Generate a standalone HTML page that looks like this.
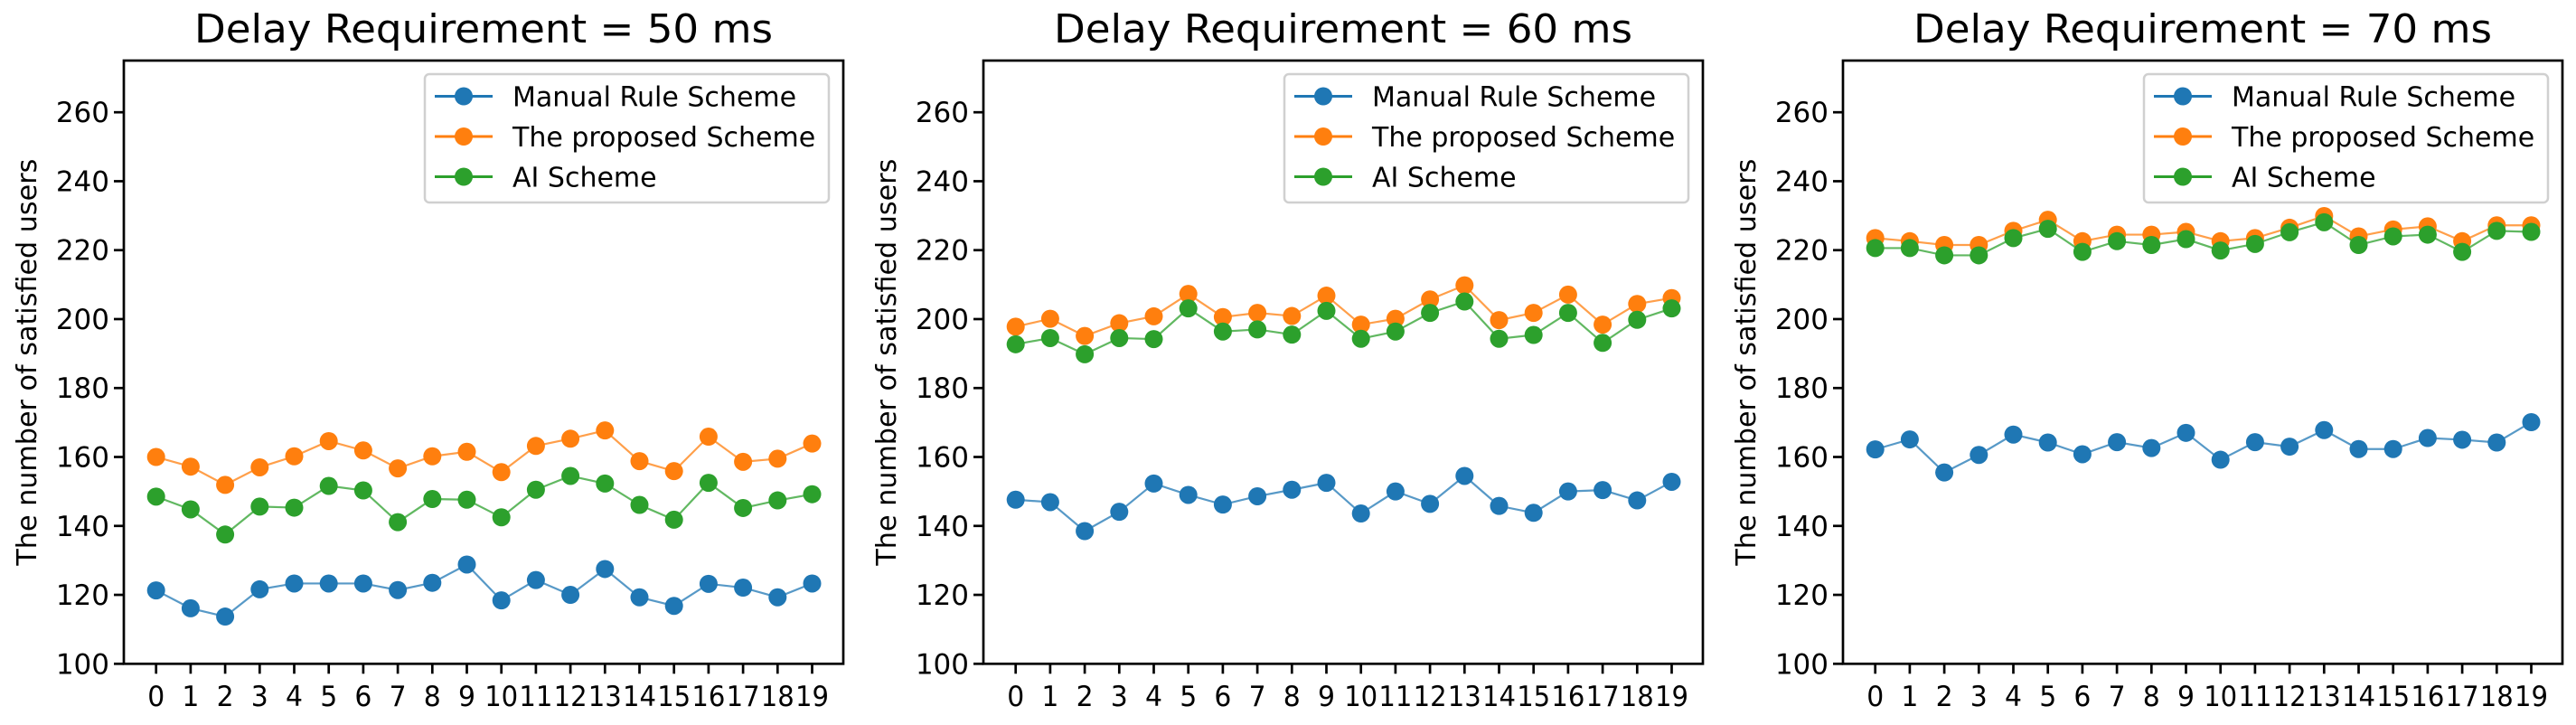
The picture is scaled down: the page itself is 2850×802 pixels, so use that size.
<!DOCTYPE html>
<html><head><meta charset="utf-8"><style>
html,body{margin:0;padding:0;background:#fff;}
svg{display:block;font-family:"DejaVu Sans","Liberation Sans",sans-serif;}
</style></head><body>
<svg id="chart" width="2850" height="802" xmlns="http://www.w3.org/2000/svg"></svg>
<script>
const categories = [0,1,2,3,4,5,6,7,8,9,10,11,12,13,14,15,16,17,18,19];
const yTicks = [100,120,140,160,180,200,220,240,260];
const panelTitles = ["Delay Requirement = 50 ms","Delay Requirement = 60 ms","Delay Requirement = 70 ms"];
const seriesNames = ["Manual Rule Scheme","The proposed Scheme","AI Scheme"];
const manual50 = [121.3,116.1,113.7,121.6,123.3,123.3,123.3,121.4,123.5,128.8,118.4,124.3,120,127.5,119.3,116.8,123.2,122.1,119.3,123.3];
const proposed50 = [160,157.2,151.9,157,160.2,164.6,161.9,156.7,160.2,161.5,155.6,163.2,165.3,167.7,158.8,155.9,165.9,158.6,159.5,163.9];
const ai50 = [148.5,144.8,137.5,145.6,145.3,151.6,150.3,141.1,147.8,147.6,142.5,150.5,154.5,152.3,146.1,141.8,152.5,145.2,147.4,149.2];
const manual60 = [147.6,146.9,138.5,144.1,152.3,149,146.2,148.6,150.5,152.5,143.6,150,146.4,154.5,145.8,143.8,150,150.4,147.4,152.8];
const proposed60 = [197.8,200.1,195.1,198.8,200.8,207.3,200.6,201.8,200.9,206.8,198.4,200.1,205.7,209.8,199.7,201.8,207.1,198.4,204.4,206.1];
const ai60 = [192.7,194.5,189.8,194.5,194.2,203.1,196.4,197,195.5,202.4,194.3,196.4,201.8,205.1,194.3,195.4,201.8,193.1,199.8,203.1];
const manual70 = [162.2,165.1,155.5,160.6,166.5,164.2,160.8,164.3,162.6,167,159.2,164.3,163,167.8,162.3,162.3,165.5,165,164.2,170.1];
const proposed70 = [223.5,222.6,221.5,221.5,225.6,228.8,222.6,224.5,224.5,225.3,222.6,223.5,226.5,229.9,224,226,226.9,222.6,227.2,227.2];
const ai70 = [220.6,220.6,218.5,218.5,223.5,226.2,219.5,222.6,221.5,223.2,219.9,221.8,225.2,228.1,221.5,224,224.5,219.5,225.6,225.3];

const panelData = [[manual50,proposed50,ai50],[manual60,proposed60,ai60],[manual70,proposed70,ai70]];
const colors = ["#1f77b4","#ff7f0e","#2ca02c"];
const NS = "http://www.w3.org/2000/svg";
const svg = document.getElementById("chart");
const lefts = [137,1088,2039];
const W = 796, TOP = 67, BOT = 734.3, YMIN = 100, YMAX = 275;
function mk(tag, attrs, parent){const e=document.createElementNS(NS,tag);for(const k in attrs)e.setAttribute(k,attrs[k]);(parent||svg).appendChild(e);return e;}
function yScale(v){return BOT-(v-YMIN)/(YMAX-YMIN)*(BOT-TOP);}
function xScale(L,i){return L+35.7+i*38.2;}

panelData.forEach((series,p)=>{
  const L = lefts[p];
  const g = mk("g",{});
  
  
  const t = mk("text",{x:L+W/2,y:47,"font-size":44,"text-anchor":"middle",textLength:640,lengthAdjust:"spacingAndGlyphs"},g);
  t.textContent = panelTitles[p];
  
  
  const yl = mk("text",{x:0,y:0,"font-size":30,"text-anchor":"middle",transform:`translate(${L-97},${(TOP+BOT)/2}) rotate(-90)`,textLength:450,lengthAdjust:"spacingAndGlyphs"},g);
  yl.textContent = "The number of satisfied users";
  
  
  yTicks.forEach(v=>{
    const y=yScale(v);
    const tk=mk("line",{x1:L-11,x2:L,y1:y,y2:y,stroke:"#000","stroke-width":2.7},g);
    
    
    const tl=mk("text",{x:L-16,y:y+11,"font-size":31,"text-anchor":"end"},g);
    tl.textContent=v;
    
    
  });
  categories.forEach((c,i)=>{
    const x=xScale(L,i);
    const tk=mk("line",{x1:x,x2:x,y1:BOT,y2:BOT+11,stroke:"#000","stroke-width":2.7},g);
    
    
    const tl=mk("text",{x:x,y:781,"font-size":31,"text-anchor":"middle",textLength:(c>=10?37:19),lengthAdjust:"spacingAndGlyphs"},g);
    tl.textContent=c;
    
    
  });
  series.forEach((vals,s)=>{
    const pts = vals.map((v,i)=>xScale(L,i)+","+yScale(v)).join(" ");
    const pl = mk("polyline",{points:pts,fill:"none",stroke:colors[s],"stroke-width":2.2,"stroke-opacity":0.75},g);
    
    
    vals.forEach((v,i)=>{
      const c = mk("circle",{cx:xScale(L,i),cy:yScale(v),r:10,fill:colors[s]},g);
      
      
    });
  });
  const frame = mk("rect",{x:L,y:TOP,width:W,height:BOT-TOP,fill:"none",stroke:"#000","stroke-width":2.7},g);
  
  
  const lg = mk("g",{},g);
  
  
  mk("rect",{x:L+333,y:82,width:447,height:142,rx:5,fill:"#fff","fill-opacity":0.8,stroke:"#d0d0d0","stroke-width":2.5},lg);
  seriesNames.forEach((n,s)=>{
    const y = 106.5 + s*44.5;
    const e = mk("g",{},lg);
    
    
    mk("line",{x1:L+344,x2:L+408,y1:y,y2:y,stroke:colors[s],"stroke-width":3},e);
    mk("circle",{cx:L+376,cy:y,r:10,fill:colors[s]},e);
    const tx = mk("text",{x:L+430,y:y+11,"font-size":30},e);
    tx.textContent = n;
  });
});
</script>
</body></html>
